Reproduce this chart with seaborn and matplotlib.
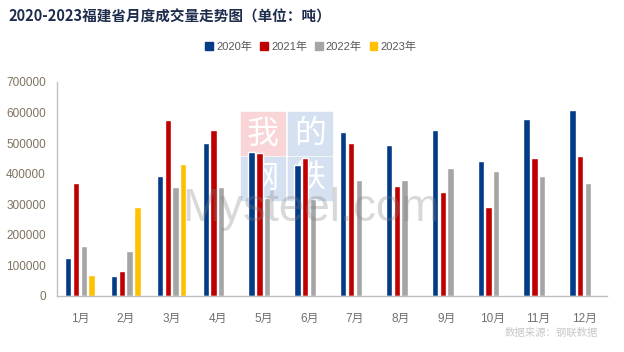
import pandas as pd
import seaborn as sns
import matplotlib.pyplot as plt
from matplotlib.patches import Rectangle

months = ['1月', '2月', '3月', '4月', '5月', '6月', '7月', '8月', '9月', '10月', '11月', '12月']
years = ['2020年', '2021年', '2022年', '2023年']
v2020 = [123000, 64000, 391000, 502000, 472000, 430000, 538000, 495000, 544000, 443000, 580000, 610000]
v2021 = [368000, 81000, 577000, 544000, 469000, 453000, 502000, 361000, 339000, 290000, 453000, 459000]
v2022 = [165000, 146000, 355000, 355000, 322000, 316000, 378000, 381000, 420000, 410000, 391000, 368000]
v2023 = [67500, 290000, 433000]
colors = ['#033B87', '#C00000', '#A5A5A5', '#FFC000']


def build_df():
    rows = []
    for year, vals in zip(years, [v2020, v2021, v2022, v2023]):
        for m, v in zip(months, vals):
            rows.append({'month': m, 'year': year, 'value': v})
    return pd.DataFrame(rows)


def main():
    sns.set_style('white')
    plt.rcParams['font.family'] = ['Liberation Sans', 'Noto Sans CJK SC', 'DejaVu Sans']
    df = build_df()

    fig = plt.figure(figsize=(6.24, 3.52), dpi=100)
    ax = fig.add_axes([57 / 624, 1 - 296 / 352, 550 / 624, 214 / 352])

    # watermark behind bars
    tile = [(241, 112, '我', '#F9D5D8'), (288, 112, '的', '#D5E1F0'),
            (241, 157, '钢', '#D5E1F0'), (288, 157, '铁', '#D5E1F0')]
    for x0, y0, ch, c in tile:
        fig.patches.append(Rectangle((x0 / 624, 1 - (y0 + 43) / 352), 44 / 624, 43 / 352,
                                     transform=fig.transFigure, color=c, zorder=0))
        fig.text((x0 + 22) / 624, 1 - (y0 + 22) / 352, ch, ha='center', va='center',
                 fontsize=23, color='white', family=['Noto Sans CJK SC'], zorder=0.5)
    ax.set_zorder(1)
    ax.patch.set_alpha(0)

    sns.barplot(data=df, x='month', y='value', hue='year', order=months, hue_order=years,
                palette=colors, width=0.68, gap=0.19, ax=ax, legend=False, saturation=1)

    fig.text(311 / 624, 1 - 209 / 352, 'Mysteel.com', ha='center', va='center',
             fontsize=33, color='#808080', alpha=0.3, zorder=5, family=['Liberation Sans'])

    ax.set_xlim(-0.5, 11.5)
    ax.set_ylim(0, 700000)
    ax.set_yticks(range(0, 700001, 100000))
    ax.set_yticklabels([str(v) for v in range(0, 700001, 100000)])
    ax.set_xticks([i - 0.5 for i in range(13)])
    ax.set_xticklabels([])
    ax.set_xticks(range(12), minor=True)
    ax.set_xticklabels(months, minor=True)
    ax.tick_params(axis='x', which='major', length=5, color='#BFBFBF', direction='out')
    ax.tick_params(axis='x', which='minor', length=0, pad=12, labelsize=8.5, labelcolor='#6F6F6F')
    ax.tick_params(axis='y', length=5, color='#BFBFBF', direction='out', labelsize=8.5,
                   labelcolor='#7F7360', pad=3)
    ax.set_xlabel('')
    ax.set_ylabel('')
    for s in ['top', 'right']:
        ax.spines[s].set_visible(False)
    for s in ['left', 'bottom']:
        ax.spines[s].set_color('#BFBFBF')
        ax.spines[s].set_linewidth(1)
    ax.grid(False)

    handles = [Rectangle((0, 0), 1, 1, color=c) for c in colors]
    fig.legend(handles, years, loc='center', bbox_to_anchor=(311 / 624, 1 - 47 / 352), ncol=4,
               frameon=False, fontsize=8, handlelength=0.7, handleheight=0.7,
               handletextpad=0.3, columnspacing=0.7, labelcolor='#595959')

    fig.text(8 / 624, 1 - 17 / 352, '2020-2023福建省月度成交量走势图（单位：吨）', ha='left',
             va='center', fontsize=10.5, fontweight='bold', color='#1F2D4D',
             family=['Noto Sans CJK SC'])
    fig.text(598 / 624, 1 - 333 / 352, '数据来源：钢联数据', ha='right', va='center',
             fontsize=7.5, color='#C8C8C8', family=['Noto Sans CJK SC'])

    fig.savefig('out.png', dpi=100)


if __name__ == '__main__':
    main()
